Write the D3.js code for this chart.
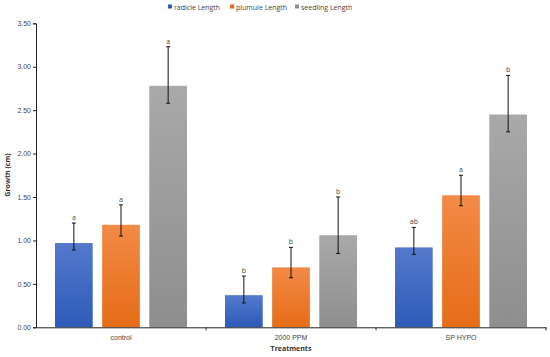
<!DOCTYPE html>
<html><head><meta charset="utf-8">
<script src="https://cdn.jsdelivr.net/npm/d3@7"></script>
<style>body{margin:0;background:#fff;}svg{display:block;font-family:"Open Sans",sans-serif;}</style>
</head><body><svg id="c" width="550" height="357"></svg>
<script>
const categories = ["control", "2000 PPM", "SP HYPO"];
const seriesNames = ["radicle Length", "plumule Length", "seedling Length"];
const radicle = [0.97, 0.37, 0.92];
const plumule = [1.18, 0.69, 1.52];
const seedling = [2.78, 1.06, 2.45];
const radicleHi = [1.20, 0.59, 1.15];
const radicleLo = [0.89, 0.28, 0.84];
const plumuleHi = [1.41, 0.92, 1.75];
const plumuleLo = [1.05, 0.57, 1.40];
const seedlingHi = [3.23, 1.50, 2.90];
const seedlingLo = [2.58, 0.85, 2.25];
const radicleLetters = ["a", "b", "ab"];
const plumuleLetters = ["a", "b", "a"];
const seedlingLetters = ["a", "b", "b"];
const yTicks = [0, 0.5, 1, 1.5, 2, 2.5, 3, 3.5];

const series = [
  {name: seriesNames[0], vals: radicle, hi: radicleHi, lo: radicleLo, let: radicleLetters, c0: "#5479cc", c1: "#2d5bb8"},
  {name: seriesNames[1], vals: plumule, hi: plumuleHi, lo: plumuleLo, let: plumuleLetters, c0: "#f28a46", c1: "#e66c17"},
  {name: seriesNames[2], vals: seedling, hi: seedlingHi, lo: seedlingLo, let: seedlingLetters, c0: "#a9a9a9", c1: "#8e8e8e"}
];

const svg = d3.select("#c");
const defs = svg.append("defs");
series.forEach((s, i) => {
  const g = defs.append("linearGradient").attr("id", "g" + i).attr("x1", 0).attr("y1", 0).attr("x2", 0).attr("y2", 1);
  g.append("stop").attr("offset", "0%").attr("stop-color", s.c0);
  g.append("stop").attr("offset", "100%").attr("stop-color", s.c1);
});

const x0 = 36, x1 = 546, yTop = 23.3, yBot = 327.3;
const x = d3.scaleBand().domain(categories).range([x0, x1]).paddingInner(0).paddingOuter(0);
const xs = d3.scaleBand().domain([0, 1, 2]).range([19, x.bandwidth() - 19]).paddingInner(0.2).paddingOuter(0);
const y = d3.scaleLinear().domain([0, 3.5]).range([yBot, yTop]);

// y axis
const ya = svg.append("g").attr("transform", `translate(${x0},0)`)
  .call(d3.axisLeft(y).tickValues(yTicks).tickFormat(d3.format(".2f")).tickSizeOuter(0).tickSize(3));
ya.select(".domain").attr("stroke", "#222");
ya.selectAll(".tick line").attr("stroke", "#222");
ya.selectAll("text").attr("font-size", 7).attr("fill", "#444").attr("x", -5);

// bars
series.forEach((s, i) => {
  const g = svg.append("g");
  g.selectAll("rect").data(categories).join("rect")
    .attr("x", c => x(c) + xs(i)).attr("width", xs.bandwidth())
    .attr("y", (c, j) => y(s.vals[j])).attr("height", (c, j) => y(0) - y(s.vals[j]))
    .attr("fill", `url(#g${i})`);
  const cx = c => x(c) + xs(i) + xs.bandwidth() / 2;
  g.selectAll("line.e").data(categories).join("line").attr("class", "e")
    .attr("x1", cx).attr("x2", cx).attr("y1", (c, j) => y(s.hi[j])).attr("y2", (c, j) => y(s.lo[j]))
    .attr("stroke", "#111").attr("stroke-width", 1);
  ["hi", "lo"].forEach(k => {
    g.selectAll("line." + k).data(categories).join("line").attr("class", k)
      .attr("x1", c => cx(c) - 2).attr("x2", c => cx(c) + 2)
      .attr("y1", (c, j) => y(s[k][j])).attr("y2", (c, j) => y(s[k][j]))
      .attr("stroke", "#111").attr("stroke-width", 1);
  });
  g.selectAll("text").data(categories).join("text")
    .attr("x", cx).attr("y", (c, j) => y(s.hi[j]) - 3)
    .attr("text-anchor", "middle").attr("font-size", 7).attr("fill", "#444")
    .text((c, j) => s.let[j]);
});

// x axis
const xa = svg.append("g").attr("transform", `translate(0,${yBot})`)
  .call(d3.axisBottom(x).tickSize(0).tickSizeOuter(0));
xa.select(".domain").attr("stroke", "#222");
xa.selectAll("text").attr("font-size", 7).attr("fill", "#444").attr("dy", "0.71em").attr("y", 8);
// boundary ticks
svg.append("g").selectAll("line").data(categories.slice(1).concat(["end"])).join("line")
  .attr("x1", c => c === "end" ? x1 : x(c)).attr("x2", c => c === "end" ? x1 : x(c))
  .attr("y1", yBot).attr("y2", yBot + 3).attr("stroke", "#222");

// titles
svg.append("text").attr("x", (x0 + x1) / 2).attr("y", 351).attr("text-anchor", "middle")
  .attr("font-size", 7).attr("font-weight", "bold").attr("fill", "#333").text("Treatments");
svg.append("text").attr("transform", "translate(10,175) rotate(-90)").attr("text-anchor", "middle")
  .attr("font-size", 7).attr("font-weight", "bold").attr("fill", "#333").text("Growth (cm)");

// legend
const legX = [168, 230, 295];
const lg = svg.append("g");
series.forEach((s, i) => {
  lg.append("rect").attr("x", legX[i]).attr("y", 4.5).attr("width", 4).attr("height", 4).attr("fill", s.c1);
  lg.append("text").attr("x", legX[i] + 6).attr("y", 9.5).attr("font-size", 7).attr("fill", "#444").text(s.name);
});
</script></body></html>
